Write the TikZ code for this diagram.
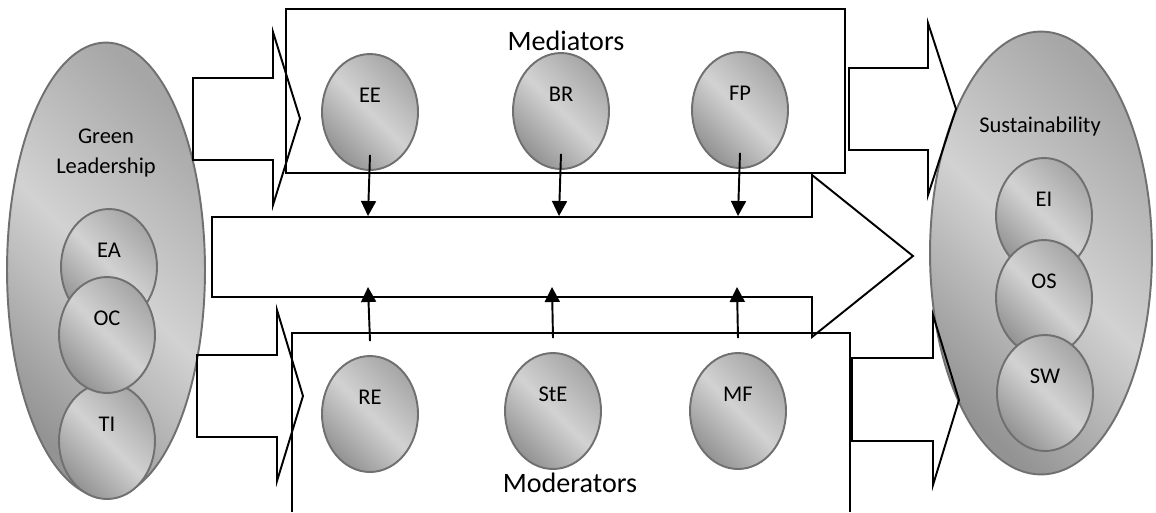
\documentclass[tikz,border=0pt]{standalone}
\usepackage{fontspec}
\setmainfont{Carlito}
\usetikzlibrary{shapes.geometric,arrows.meta,calc}
\definecolor{ovline}{HTML}{707070}
\definecolor{gTop}{HTML}{A6A6A6}
\definecolor{gBot}{HTML}{939393}
\definecolor{gMid}{HTML}{D2D2D2}
\begin{document}
\begin{tikzpicture}[x=0.02cm,y=-0.02cm,
  blk/.style={draw=black, line width=1.1pt, line join=miter},
  oval/.style={ellipse, draw=ovline, line width=1.1pt, inner sep=0pt,
    top color=gTop, bottom color=gBot, middle color=gMid, shading angle=-45},
  smalloval/.style={oval, minimum width=1.92cm, minimum height=2.32cm},
  lab/.style={font=\fontsize{12.8}{15}\selectfont, inner sep=0pt},
  biglab/.style={font=\fontsize{16}{19}\selectfont, inner sep=0pt},
  conn/.style={line width=1.1pt, -{Triangle[length=0.3cm,width=0.3cm]}}]
\useasboundingbox (0,0) rectangle (1156,512);
\fill[white] (0,0) rectangle (1156,512);

% big ellipses
\node[oval, minimum width=3.96cm, minimum height=9.1cm] (gl) at (106,270) {};
\node[lab, align=center, font=\fontsize{12.8}{17.6}\selectfont] (glt) at (106,153) {Green\\Leadership};
\node[smalloval] (ea) at (109,267) {};
\node[smalloval] (ti) at (107,441) {};
\node[smalloval] (oc) at (107,335) {};
\node[lab] at ([yshift=0.34cm]ea.center) {EA};
\node[lab] at ([yshift=0.34cm]oc.center) {OC};
\node[lab] at ([yshift=0.34cm]ti.center) {TI};

\node[oval, minimum width=4.44cm, minimum height=8.86cm] (sus) at (1041,253) {};
\node[lab, anchor=base] (sust) at (1040,132) {Sustainability};
\node[smalloval] (ei) at (1044,216) {};
\node[smalloval] (os) at (1044,298) {};
\node[smalloval] (sw) at (1045,393) {};
\node[lab] at ([yshift=0.34cm]ei.center) {EI};
\node[lab] at ([yshift=0.34cm]os.center) {OS};
\node[lab] at ([yshift=0.34cm]sw.center) {SW};

% boxes
\draw[blk] (286,9) rectangle (845,173);
\draw[blk] (292,512) -- (292,333) -- (850,333) -- (850,512);
\node[biglab] (med) at (566,40.5) {Mediators};
\node[biglab] (mod) at (570,483) {Moderators};

% block arrows
\draw[blk] (193,78) -- (273,78) -- (273,32) -- (300,118.5) -- (273,205) -- (273,160) -- (193,160) -- cycle;
\draw[blk] (197,355) -- (277,355) -- (277,310) -- (303,396) -- (277,481) -- (277,437) -- (197,437) -- cycle;
\draw[blk] (849,68) -- (928,68) -- (928,23) -- (956,109) -- (928,195) -- (928,150) -- (849,150) -- cycle;
\draw[blk] (852,358) -- (933,358) -- (933,315) -- (959,400) -- (933,485) -- (933,441) -- (852,441) -- cycle;
\coordinate (mtop) at (212,217);
\coordinate (mbot) at (212,297);
\draw[blk] (mtop) -- (812,217) -- (812,175) -- (913,256) -- (812,337) -- (812,297) -- (mbot) -- cycle;

% mediators
\node[smalloval] (ee) at (370,112) {};
\node[smalloval] (br) at (561,111) {};
\node[smalloval] (fp) at (740,110) {};
\node[lab] at ([yshift=0.34cm]ee.center) {EE};
\node[lab] at ([yshift=0.34cm]br.center) {BR};
\node[lab] at ([yshift=0.34cm]fp.center) {FP};

% moderators
\node[smalloval] (re) at (370,414) {};
\node[smalloval] (ste) at (553,411) {};
\node[smalloval] (mf) at (738,411) {};
\node[lab] at ([yshift=0.34cm]re.center) {RE};
\node[lab] at ([yshift=0.34cm]ste.center) {StE};
\node[lab] at ([yshift=0.34cm]mf.center) {MF};

% connectors
\draw[conn] ([yshift=0.32cm]ee.south) -- ($(ee.south |- mtop)+(-2,-1)$);
\draw[conn] ([yshift=0.32cm]br.south) -- ($(br.south |- mtop)+(-2,-1)$);
\draw[conn] ([yshift=0.32cm]fp.south) -- ($(fp.south |- mtop)+(-2,-1)$);
\draw[conn] ([yshift=0.28cm]re.north) -- ($(re.north |- mbot)+(-2,-10)$);
\draw[conn] ([yshift=0.28cm]ste.north) -- ($(ste.north |- mbot)+(-1,-10)$);
\draw[conn] ([yshift=0.28cm]mf.north) -- ($(mf.north |- mbot)+(-1,-10)$);
\end{tikzpicture}
\end{document}
